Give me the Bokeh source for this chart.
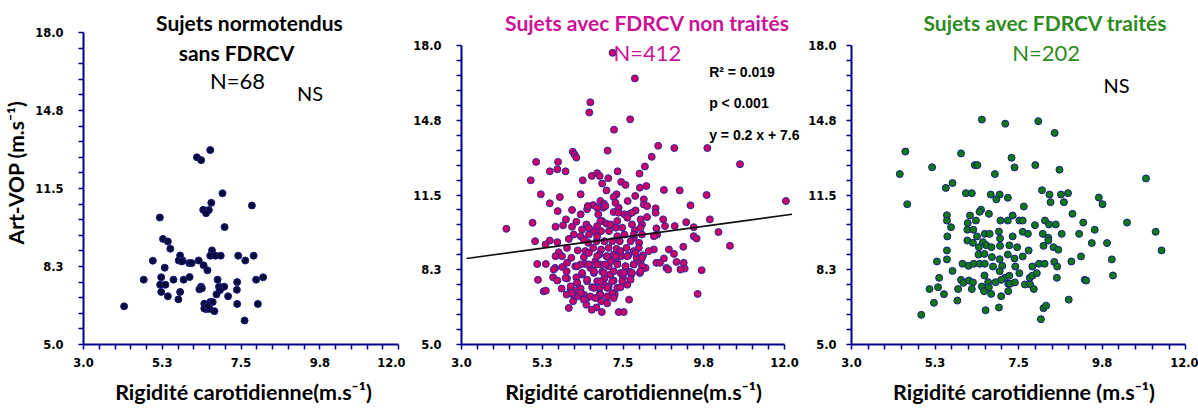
from bokeh.plotting import figure
from bokeh.layouts import row
from bokeh.models import Range1d, FixedTicker, CustomJSTickFormatter, Label
from bokeh.embed import file_html
from bokeh.resources import INLINE
import numpy as np

# ---------------- data ----------------
x_tick_values = [3.0, 5.25, 7.5, 9.75, 12.0]
x_tick_labels = ["3.0", "5.3", "7.5", "9.8", "12.0"]
y_tick_values = [5.0, 8.25, 11.5, 14.75, 18.0]
y_tick_labels = ["5.0", "8.3", "11.5", "14.8", "18.0"]

# Panel 1: Sujets normotendus sans FDRCV (N=68)
p1_x = [6.62, 6.24, 6.36, 6.97, 6.65, 7.81, 6.42, 6.58, 6.50, 5.18,
        7.03, 5.27, 5.41, 5.48, 6.67, 5.76, 6.62, 6.77, 6.92, 7.42,
        7.86, 4.98, 5.72, 5.83, 6.02, 6.09, 6.29, 7.62, 6.43, 6.54,
        5.32, 4.72, 5.22, 5.57, 5.86, 6.03, 6.83, 7.39, 7.93, 8.13,
        5.19, 5.34, 6.36, 6.31, 6.87, 7.02, 6.90, 5.22, 5.76, 7.38,
        6.80, 5.41, 5.71, 7.13, 4.16, 6.45, 6.62, 6.69, 7.39, 7.98,
        6.50, 6.60, 6.74, 7.60, 6.45, 6.55, 6.38, 5.81]
p1_y = [13.10, 12.80, 12.68, 11.30, 10.90, 10.79, 10.61, 10.60, 10.47, 10.29,
        9.89, 9.40, 9.29, 8.99, 8.92, 8.71, 8.70, 8.70, 8.70, 8.70,
        8.70, 8.49, 8.50, 8.50, 8.39, 8.39, 8.50, 8.50, 8.30, 8.09,
        8.20, 7.70, 7.80, 7.70, 7.70, 7.81, 7.70, 7.60, 7.70, 7.80,
        7.49, 7.49, 7.41, 7.30, 7.41, 7.41, 7.27, 7.19, 7.19, 7.28,
        7.09, 7.01, 6.88, 7.01, 6.59, 6.70, 6.77, 6.77, 6.69, 6.69,
        6.48, 6.48, 6.39, 6.00, 6.50, 6.59, 7.34, 8.46]

# Panel 2: Sujets avec FDRCV non traités (N=412)
p2_x = [7.21, 7.83, 6.59, 6.56, 7.70, 7.25, 8.48, 8.93, 9.85, 7.07,
        6.10, 6.15, 6.20, 8.30, 5.08, 5.69, 10.76, 8.11, 5.67, 5.46,
        5.90, 7.35, 7.96, 6.63, 6.78, 6.85, 7.09, 4.93, 6.38, 7.45,
        6.92, 7.57, 7.97, 8.15, 7.04, 7.32, 8.64, 9.08, 5.21, 6.32,
        5.74, 7.24, 7.84, 9.83, 12.04, 5.46, 6.87, 6.97, 7.63, 8.08,
        8.08, 8.17, 9.38, 6.67, 5.68, 6.08, 6.50, 6.95, 7.38, 7.85,
        8.41, 8.41, 6.32, 6.81, 7.24, 7.54, 7.66, 8.17, 5.91, 6.20,
        6.92, 7.04, 8.62, 9.26, 9.92, 4.98, 5.83, 6.08, 6.48, 5.62,
        7.30, 7.48, 7.83, 8.67, 8.94, 9.47, 8.43, 4.25, 6.69, 6.89,
        7.11, 6.13, 6.32, 7.54, 8.45, 10.16, 8.03, 9.47, 9.55, 5.05,
        5.46, 5.99, 5.34, 5.67, 6.53, 6.76, 6.98, 7.20, 7.41, 7.95,
        8.36, 10.48, 9.18, 5.94, 6.24, 6.67, 6.89, 7.10, 7.32, 7.60,
        8.78, 8.92, 8.36, 8.22, 5.71, 5.62, 5.80, 6.06, 6.41, 6.84,
        7.04, 7.24, 7.45, 7.65, 7.88, 8.06, 8.64, 5.11, 5.35, 8.43,
        8.53, 8.99, 9.19, 9.22, 8.71, 8.76, 9.10, 9.69, 8.13, 5.61,
        5.81, 5.93, 6.17, 6.45, 6.59, 6.87, 7.10, 7.34, 7.57, 7.80,
        6.69, 6.92, 7.15, 7.43, 7.69, 7.97, 5.13, 5.55, 5.67, 5.94,
        6.20, 6.36, 6.50, 6.78, 6.98, 7.24, 7.50, 7.73, 6.64, 6.85,
        7.10, 7.34, 5.29, 5.35, 5.79, 6.04, 6.18, 6.32, 9.58, 6.85,
        7.06, 7.27, 5.93, 6.11, 6.41, 6.50, 7.67, 5.99, 6.11, 6.24,
        6.48, 6.76, 6.63, 6.89, 7.06, 6.91, 7.38, 7.52, 6.55, 6.78,
        7.34, 7.80, 6.45, 7.43, 7.80, 6.73, 7.15, 7.99, 6.32, 6.97,
        7.62, 6.22,
        6.52, 6.78, 7.01, 7.29, 7.38, 7.62, 7.75, 7.99, 6.87, 7.15,
        7.34, 7.75, 7.99, 6.36, 6.55, 6.78, 7.80, 8.03, 6.41, 7.71,
        7.94, 6.55, 6.78, 7.06, 7.29, 7.62, 7.85, 8.03, 5.94, 6.22,
        6.55, 6.78, 7.01, 7.34, 7.57, 7.80, 8.03, 5.57, 6.36, 6.69,
        6.97, 7.24, 7.52, 7.75, 7.99, 5.90, 6.50, 6.87, 7.20, 7.48,
        7.71, 6.22, 6.04, 6.69, 7.06, 7.43, 6.32, 6.59, 6.87, 7.20,
        6.08, 6.41, 6.73, 7.24]
p2_y = [17.68, 16.57, 15.53, 15.09, 14.79, 14.34, 13.64, 13.54, 13.54, 13.43,
        13.38, 13.26, 13.13, 13.16, 12.94, 12.94, 12.84, 12.74, 12.62, 12.53,
        12.53, 12.53, 12.43, 12.33, 12.45, 12.33, 12.23, 12.14, 12.14, 12.07,
        12.00, 11.94, 11.82, 11.89, 11.70, 11.53, 11.72, 11.70, 11.53, 11.53,
        11.41, 11.41, 11.46, 11.50, 11.24, 11.14, 11.24, 11.12, 11.24, 11.31,
        11.09, 11.02, 11.05, 11.06, 10.80, 10.85, 10.88, 10.95, 10.95, 10.83,
        10.92, 10.73, 10.66, 10.66, 10.76, 10.66, 10.66, 10.54, 10.44, 10.34,
        10.37, 10.25, 10.44, 10.32, 10.44, 10.29, 10.18, 10.12, 10.22, 10.12,
        10.08, 10.08, 9.97, 10.15, 10.15, 10.10, 10.05, 10.03, 9.93, 9.93,
        9.93, 9.78, 9.71, 9.78, 9.78, 9.89, 10.22, 9.71, 9.61, 9.49,
        9.52, 9.59, 9.35, 9.45, 9.42, 9.49, 9.49, 9.49, 9.49, 9.42,
        9.71, 9.29, 9.25, 9.20, 9.09, 9.20, 9.13, 9.20, 9.16, 9.20,
        9.13, 8.94, 9.13, 9.06, 9.01, 8.84, 8.84, 8.77, 8.80, 8.91,
        8.84, 8.91, 8.84, 8.88, 8.77, 8.88, 8.74, 8.50, 8.50, 8.55,
        8.55, 8.59, 8.55, 8.30, 8.33, 8.26, 8.26, 8.23, 8.33, 8.33,
        8.37, 8.18, 8.40, 8.50, 8.33, 8.48, 8.40, 8.55, 8.40, 8.48,
        8.11, 8.16, 8.04, 8.11, 8.16, 8.11, 7.81, 7.92, 7.78, 7.87,
        7.92, 8.04, 7.75, 7.75, 7.87, 7.78, 7.89, 8.04, 7.49, 7.46,
        7.53, 7.46, 7.31, 7.34, 7.43, 7.37, 7.34, 7.43, 7.20, 7.20,
        7.09, 7.17, 7.17, 7.17, 7.17, 7.02, 6.95, 6.59, 6.88, 7.09,
        6.73, 6.61, 6.51, 6.88, 6.79, 6.41, 6.41, 6.41, 9.78, 9.71,
        9.71, 9.64, 9.06, 9.06, 9.06, 8.62, 8.62, 8.62, 8.48, 7.60,
        7.60, 7.68,
        11.02, 10.95, 11.02, 11.16, 10.73, 10.51, 10.73, 10.44, 10.37, 10.22,
        10.37, 10.22, 10.07, 10.00, 10.07, 10.15, 9.78, 9.78, 9.56, 9.49,
        9.20, 8.98, 8.84, 8.84, 8.84, 8.84, 8.98, 8.77, 8.55, 8.40,
        8.48, 8.48, 8.48, 8.48, 8.40, 8.48, 8.40, 8.26, 8.11, 8.18,
        8.11, 8.18, 8.11, 8.11, 8.18, 7.89, 7.82, 7.75, 7.75, 7.75,
        7.82, 7.68, 7.53, 7.46, 7.46, 7.49, 7.24, 7.09, 7.17, 7.24,
        7.24, 6.95, 7.02, 7.02]
# trend line of panel 2 (end points)
reg_x = [3.14, 12.21]
reg_y = [8.74, 10.66]

# Panel 3: Sujets avec FDRCV traités (N=202)
p3_x = [6.51, 7.14, 8.03, 8.47, 4.45, 5.95, 7.31, 6.32, 6.39, 7.39,
        7.95, 5.17, 8.60, 4.30, 6.86, 10.93, 5.72, 5.54, 8.13, 6.08,
        6.24, 6.75, 6.99, 7.21, 6.90, 8.33, 8.64, 8.83, 4.50, 8.36,
        8.72, 9.66, 9.76, 7.64, 6.49, 6.45, 6.70, 5.57, 5.57, 6.19,
        7.34, 8.95, 5.68, 6.13, 6.35, 7.01, 7.21, 7.52, 7.61, 8.21,
        7.94, 8.32, 8.50, 9.24, 10.42, 6.12, 6.28, 6.59, 6.72, 6.97,
        7.61, 7.75, 9.55, 11.19, 5.58, 6.38, 7.00, 7.34, 8.15, 9.13,
        8.66, 6.12, 6.27, 6.54, 8.30, 8.30, 9.47, 9.88, 6.43, 6.63,
        6.77, 7.25, 7.46, 7.00, 7.77, 8.17, 8.44, 8.57, 5.57, 11.35,
        6.42, 6.58, 6.78, 7.21, 7.39, 7.61, 9.18, 5.57, 6.99, 5.30,
        5.99, 6.15, 6.29, 6.45, 6.59, 6.81, 7.06, 7.41, 7.87, 8.05,
        8.20, 8.46, 8.54, 8.92, 10.01, 5.72, 6.58, 6.99, 7.13, 7.25,
        7.52, 7.80, 7.87, 7.99, 8.53, 10.04, 9.28, 9.32, 5.36, 5.95,
        6.01, 6.16, 6.27, 6.68, 6.88, 7.03, 7.22, 7.27, 7.40, 7.67,
        7.81, 5.33, 5.10, 5.87, 6.24, 6.51, 6.57, 6.70, 7.91, 7.22,
        5.49, 6.76, 7.03, 5.22, 5.85, 8.85, 6.97, 6.61, 8.17, 8.24,
        4.88, 8.10]
p3_y = [14.78, 14.60, 14.71, 14.20, 13.39, 13.31, 13.12, 12.80, 12.80, 12.70,
        12.80, 12.71, 12.60, 12.41, 12.41, 12.22, 12.02, 11.81, 11.71, 11.58,
        11.58, 11.52, 11.52, 11.38, 11.31, 11.52, 11.52, 11.58, 11.10, 11.19,
        11.19, 11.39, 11.10, 11.00, 10.86, 10.77, 10.68, 10.62, 10.39, 10.61,
        10.61, 10.68, 10.10, 10.28, 10.39, 10.39, 10.39, 10.39, 10.39, 10.39,
        10.19, 10.22, 10.22, 10.30, 10.30, 9.99, 9.99, 9.81, 9.81, 9.91,
        9.90, 9.81, 9.99, 9.90, 9.70, 9.70, 9.61, 9.70, 9.81, 9.81,
        9.81, 9.52, 9.42, 9.45, 9.64, 9.52, 9.41, 9.41, 9.23, 9.32,
        9.23, 9.31, 9.23, 9.29, 9.09, 9.29, 9.23, 9.12, 9.09, 9.09,
        8.91, 8.94, 8.80, 8.91, 8.74, 8.83, 8.83, 8.70, 8.71, 8.61,
        8.51, 8.42, 8.51, 8.51, 8.51, 8.39, 8.42, 8.39, 8.39, 8.51,
        8.51, 8.59, 8.39, 8.61, 8.70, 8.20, 8.00, 8.19, 7.90, 7.99,
        8.10, 7.90, 7.99, 8.10, 7.90, 8.00, 7.81, 7.78, 7.90, 7.81,
        7.68, 7.78, 7.70, 7.71, 7.71, 7.81, 7.64, 7.64, 7.70, 7.61,
        7.61, 7.49, 7.41, 7.41, 7.41, 7.52, 7.32, 7.49, 7.41, 7.32,
        7.19, 7.20, 7.10, 6.81, 6.91, 6.95, 6.61, 6.49, 6.58, 6.69,
        6.29, 6.10]

# ---------------- styling helpers ----------------
AXIS_BLUE = "#00008B"


def minor_between(vals, n=5):
    out = []
    for a, b in zip(vals[:-1], vals[1:]):
        out += [float(v) for v in np.linspace(a, b, n + 1)[1:-1]]
    return out


def formatter(vals, labels):
    return CustomJSTickFormatter(args=dict(tv=vals, tl=labels), code="""
let best = 0, d = Infinity;
for (let k = 0; k < tv.length; k++) {
  const e = Math.abs(tv[k] - tick);
  if (e < d) { d = e; best = k; }
}
return tl[best];
""")


def make_fig(width, left, right, bottom, x_end, y_end, y_standoff):
    p = figure(width=width, height=408,
               x_range=Range1d(3, x_end), y_range=Range1d(5, y_end),
               output_backend="svg", toolbar_location=None,
               min_border_left=left, min_border_right=right,
               min_border_top=0, min_border_bottom=bottom)
    p.outline_line_color = None
    p.xgrid.visible = False
    p.ygrid.visible = False
    p.background_fill_color = "white"
    p.border_fill_color = "white"
    p.xaxis.ticker = FixedTicker(ticks=x_tick_values, minor_ticks=minor_between(x_tick_values))
    p.yaxis.ticker = FixedTicker(ticks=y_tick_values, minor_ticks=minor_between(y_tick_values))
    p.xaxis.formatter = formatter(x_tick_values, x_tick_labels)
    p.yaxis.formatter = formatter(y_tick_values, y_tick_labels)
    p.xaxis.bounds = (x_tick_values[0], x_tick_values[-1])
    p.yaxis.bounds = (y_tick_values[0], y_tick_values[-1])
    for ax in (p.xaxis[0], p.yaxis[0]):
        ax.axis_line_color = AXIS_BLUE
        ax.axis_line_width = 2
        ax.major_tick_line_color = AXIS_BLUE
        ax.minor_tick_line_color = AXIS_BLUE
        ax.major_tick_line_width = 1.5
        ax.minor_tick_line_width = 1.5
        ax.major_tick_out = 5
        ax.major_tick_in = 0
        ax.minor_tick_out = 5
        ax.minor_tick_in = 0
        ax.major_label_text_font = "DejaVu Sans"
        ax.major_label_text_font_style = "bold"
        ax.major_label_text_font_size = "11.5px"
        ax.major_label_text_color = "black"
        ax.axis_label_text_font = "Lato"
        ax.axis_label_text_font_style = "bold"
        ax.axis_label_text_color = "black"
    p.xaxis.major_label_standoff = 8
    p.yaxis.major_label_standoff = y_standoff
    p.xaxis.axis_label_text_font_size = "21.5px"
    p.xaxis.axis_label_standoff = 9
    return p


def add_text(p, x, y, text, color="black", size="21px", bold=True, align="center"):
    p.add_layout(Label(x=x, y=y, text=text, text_align=align, text_baseline="middle",
                       text_font="Lato", text_font_style="bold" if bold else "normal",
                       text_font_size=size, text_color=color))


# ---------------- panel 1 ----------------
p1 = make_fig(405, 81, 2, 63, 12.14, 19.33, 15)
p1.xaxis.axis_label = "Rigidité carotidienne(m.s⁻¹)"
p1.yaxis.axis_label = "Art-VOP (m.s⁻¹)"
p1.yaxis.axis_label_text_font_size = "21px"
p1.yaxis.axis_label_standoff = 4
p1.scatter(p1_x, p1_y, size=7, fill_color="#0B0B3B", line_color="#1A1A80", line_width=1)
add_text(p1, 7.74, 18.42, "Sujets normotendus")
add_text(p1, 7.37, 17.17, "sans FDRCV")
add_text(p1, 7.40, 16.01, "N=68", size="22px", bold=False)
add_text(p1, 9.47, 15.47, "NS", size="20px", bold=False)

# ---------------- panel 2 ----------------
MAGENTA = "#CC1199"
p2 = make_fig(400, 56, 0, 64, 12.585, 19.957, 15)
p2.xaxis.axis_label = "Rigidité carotidienne(m.s⁻¹)"
p2.scatter(p2_x, p2_y, size=7, fill_color="#CC0066", line_color="#2B2BA0", line_width=1)
p2.line(reg_x, reg_y, line_color="#111111", line_width=1.6)
add_text(p2, 8.18, 19.0, "Sujets avec FDRCV non traités", color=MAGENTA)
add_text(p2, 8.18, 17.70, "N=412", color=MAGENTA, size="22px", bold=False)
for yy, txt in [(16.83, "R² = 0.019"), (15.48, "p < 0.001"), (14.09, "y = 0.2 x + 7.6")]:
    p2.add_layout(Label(x=9.90, y=yy, text=txt, text_align="left", text_baseline="middle",
                        text_font="Liberation Sans", text_font_style="bold",
                        text_font_size="14px", text_color="black"))

# ---------------- panel 3 ----------------
GREEN = "#2E8B22"
p3 = make_fig(393, 42, 2, 64, 12.29, 19.957, 10)
p3.xaxis.axis_label = "Rigidité carotidienne (m.s⁻¹)"
p3.scatter(p3_x, p3_y, size=7, fill_color="#0E7A0E", line_color="#1C1C8C", line_width=1)
add_text(p3, 8.22, 19.0, "Sujets avec FDRCV traités", color=GREEN)
add_text(p3, 8.24, 17.70, "N=202", color=GREEN, size="22px", bold=False)
add_text(p3, 10.14, 16.30, "NS", size="20px", bold=False)

layout = row(p1, p2, p3)
open("out.html", "w").write(file_html(layout, INLINE))
